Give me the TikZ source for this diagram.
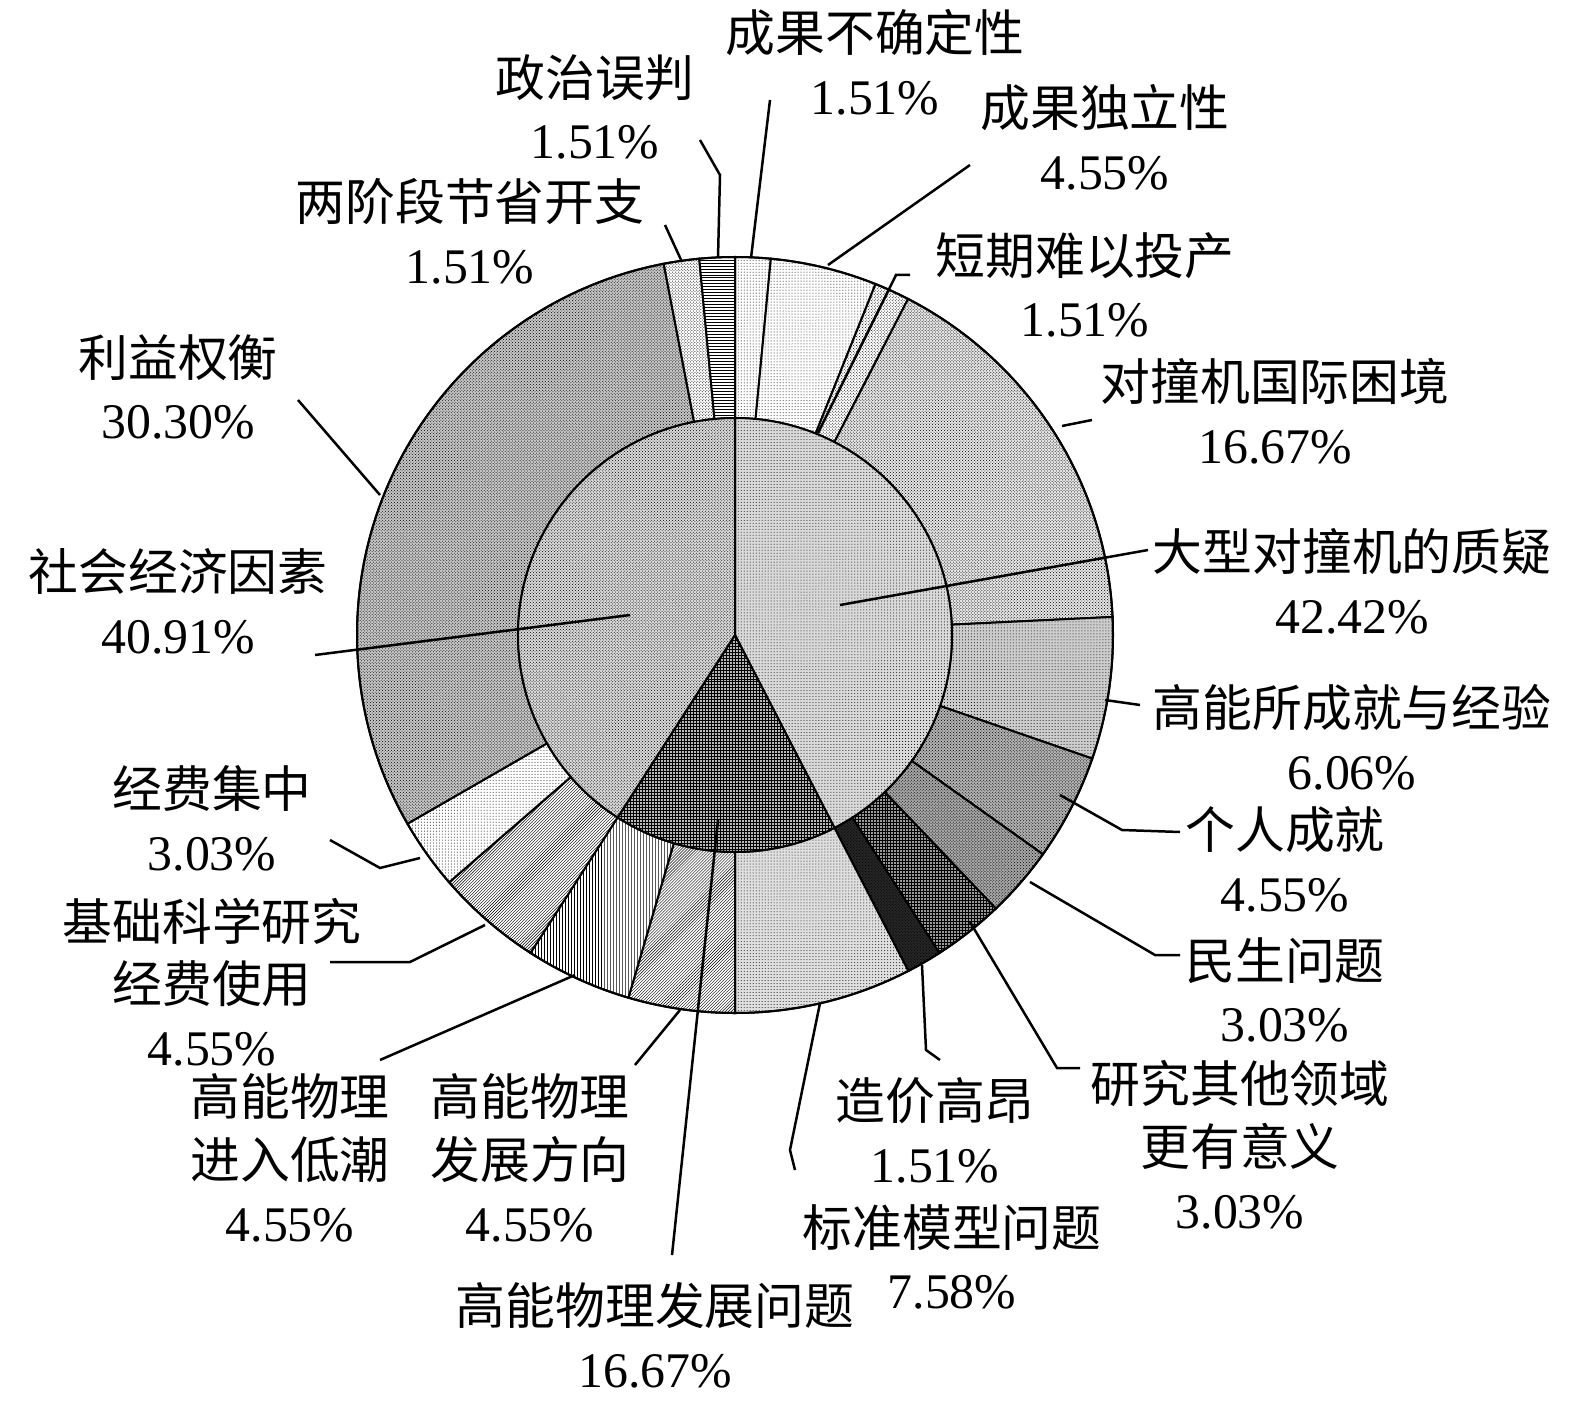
\documentclass[tikz,border=0pt]{standalone}
\usepackage{fontspec}
\setmainfont{Liberation Serif}
\newfontfamily\cjk{Noto Sans CJK SC}
\usetikzlibrary{patterns}
\newcommand{\sect}[6]{% a1 a2 r1 r2 fill pattern
  \fill[#5] (#1:#4) arc (#1:#2:#4) -- (#2:#3) arc (#2:#1:#3) -- cycle;
  \fill[pattern=#6,pattern color=black] (#1:#4) arc (#1:#2:#4) -- (#2:#3) arc (#2:#1:#3) -- cycle;
  \draw[seg] (#1:#4) arc (#1:#2:#4) -- (#2:#3) arc (#2:#1:#3) -- cycle;}
\newcommand{\isect}[4]{%
  \fill[#3] (0,0) -- (#1:217) arc (#1:#2:217) -- cycle;
  \fill[pattern=#4,pattern color=black] (0,0) -- (#1:217) arc (#1:#2:217) -- cycle;
  \draw[seg] (0,0) -- (#1:217) arc (#1:#2:217) -- cycle;}
\begin{document}
\begin{tikzpicture}[x=1bp,y=-1bp,
  seg/.style={line width=2bp,draw=black},
  lab/.style={font=\fontsize{50}{63}\selectfont,align=center,inner sep=0pt},
  lead/.style={line width=2.5bp}]
\useasboundingbox (0,0) rectangle (1575,1405);
\begin{scope}[shift={(735,635)},yscale=-1]
% outer ring
\sect{90}{84.56}{217}{378}{white}{dots}
\sect{84.56}{68.18}{217}{378}{white}{dots}
\sect{68.18}{62.75}{217}{378}{white}{crosshatch dots}
\sect{62.75}{2.74}{217}{378}{gray!20}{crosshatch dots}
\sect{2.74}{-19.08}{217}{378}{gray!40}{dots}
\sect{-19.08}{-35.46}{217}{378}{gray!60}{crosshatch dots}
\sect{-35.46}{-46.37}{217}{378}{gray!70}{crosshatch dots}
\sect{-46.37}{-57.28}{217}{378}{gray!80}{grid}
\sect{-57.28}{-62.71}{217}{378}{black!85}{crosshatch dots}
\sect{-62.71}{-90}{217}{378}{gray!25}{dots}
\sect{-90}{-106.38}{217}{378}{white}{north east lines}
\sect{-106.38}{-122.76}{217}{378}{white}{vertical lines}
\sect{-122.76}{-139.14}{217}{378}{white}{north east lines}
\sect{-139.14}{-150.05}{217}{378}{white}{dots}
\sect{-150.05}{-259.13}{217}{378}{gray!45}{crosshatch dots}
\sect{-259.13}{-264.57}{217}{378}{white}{crosshatch dots}
\sect{-264.57}{-270}{217}{378}{white}{horizontal lines}
% inner ring
\isect{90}{-62.71}{gray!30}{dots}
\isect{-62.71}{-122.76}{gray!55}{grid}
\isect{-122.76}{-270}{gray!30}{crosshatch dots}
\draw[seg] (0,0) circle (378);
\end{scope}
% labels
\node[lab] (A) at (875,62) {{\cjk 成果不确定性}\\1.51\%};
\node[lab] (B) at (595,107) {{\cjk 政治误判}\\1.51\%};
\node[lab] (C) at (1105,137) {{\cjk 成果独立性}\\4.55\%};
\node[lab] (D) at (470,231) {{\cjk 两阶段节省开支}\\1.51\%};
\node[lab] (E) at (1085,285) {{\cjk 短期难以投产}\\1.51\%};
\node[lab] (F) at (178,387) {{\cjk 利益权衡}\\30.30\%};
\node[lab] (G) at (1275,411) {{\cjk 对撞机国际困境}\\16.67\%};
\node[lab] (H) at (1352,581) {{\cjk 大型对撞机的质疑}\\42.42\%};
\node[lab] (I) at (178,601) {{\cjk 社会经济因素}\\40.91\%};
\node[lab] (J) at (1352,737) {{\cjk 高能所成就与经验}\\6.06\%};
\node[lab] (K) at (212,818) {{\cjk 经费集中}\\3.03\%};
\node[lab] (L) at (1285,859) {{\cjk 个人成就}\\4.55\%};
\node[lab] (M) at (212,982) {{\cjk 基础科学研究}\\{\cjk 经费使用}\\4.55\%};
\node[lab] (N) at (1285,990) {{\cjk 民生问题}\\3.03\%};
\node[lab] (O) at (1240,1145) {{\cjk 研究其他领域}\\{\cjk 更有意义}\\3.03\%};
\node[lab] (P) at (935,1130) {{\cjk 造价高昂}\\1.51\%};
\node[lab] (Q) at (290,1158) {{\cjk 高能物理}\\{\cjk 进入低潮}\\4.55\%};
\node[lab] (R) at (530,1158) {{\cjk 高能物理}\\{\cjk 发展方向}\\4.55\%};
\node[lab] (S) at (952,1257) {{\cjk 标准模型问题}\\7.58\%};
\node[lab] (T) at (655,1335) {{\cjk 高能物理发展问题}\\16.67\%};
% leader lines
\coordinate (a0) at (770,100); \coordinate (a1) at (751,258);
\coordinate (b0) at (700,140); \coordinate (b1) at (720,175); \coordinate (b2) at (718,258);
\coordinate (d0) at (665,225); \coordinate (d1) at (682,262);
\coordinate (c0) at (970,165); \coordinate (c1) at (828,265);
\coordinate (e0) at (910,275); \coordinate (e1) at (896,275); \coordinate (e2) at (818,433);
\coordinate (g0) at (1092,420); \coordinate (g1) at (1062,426);
\coordinate (h0) at (1148,550); \coordinate (h1) at (840,605);
\coordinate (j0) at (1140,705); \coordinate (j1) at (1105,700);
\coordinate (l0) at (1180,832); \coordinate (l1) at (1122,830); \coordinate (l2) at (1060,795);
\coordinate (n0) at (1180,955); \coordinate (n1) at (1155,955); \coordinate (n2) at (1030,882);
\coordinate (o0) at (1080,1068); \coordinate (o1) at (1057,1068); \coordinate (o2) at (970,922);
\coordinate (p0) at (940,1060); \coordinate (p1) at (926,1050); \coordinate (p2) at (922,965);
\coordinate (s0) at (795,1170); \coordinate (s1) at (790,1150); \coordinate (s2) at (820,1003);
\coordinate (t0) at (672,1255); \coordinate (t1) at (718,820);
\coordinate (r0) at (635,1065); \coordinate (r1) at (680,1010);
\coordinate (q0) at (380,1060); \coordinate (q1) at (575,975);
\coordinate (m0) at (330,962); \coordinate (m1) at (410,962); \coordinate (m2) at (485,925);
\coordinate (k0) at (330,840); \coordinate (k1) at (380,868); \coordinate (k2) at (420,858);
\coordinate (i0) at (315,655); \coordinate (i1) at (630,615);
\coordinate (f0) at (298,400); \coordinate (f1) at (380,495);
\draw[lead] (a0)--(a1);
\draw[lead] (b0)--(b1)--(b2);
\draw[lead] (d0)--(d1);
\draw[lead] (c0)--(c1);
\draw[lead] (e0)--(e1)--(e2);
\draw[lead] (g0)--(g1);
\draw[lead] (h0)--(h1);
\draw[lead] (j0)--(j1);
\draw[lead] (l0)--(l1)--(l2);
\draw[lead] (n0)--(n1)--(n2);
\draw[lead] (o0)--(o1)--(o2);
\draw[lead] (p0)--(p1)--(p2);
\draw[lead] (s0)--(s1)--(s2);
\draw[lead] (t0)--(t1);
\draw[lead] (r0)--(r1);
\draw[lead] (q0)--(q1);
\draw[lead] (m0)--(m1)--(m2);
\draw[lead] (k0)--(k1)--(k2);
\draw[lead] (i0)--(i1);
\draw[lead] (f0)--(f1);
\end{tikzpicture}
\end{document}
